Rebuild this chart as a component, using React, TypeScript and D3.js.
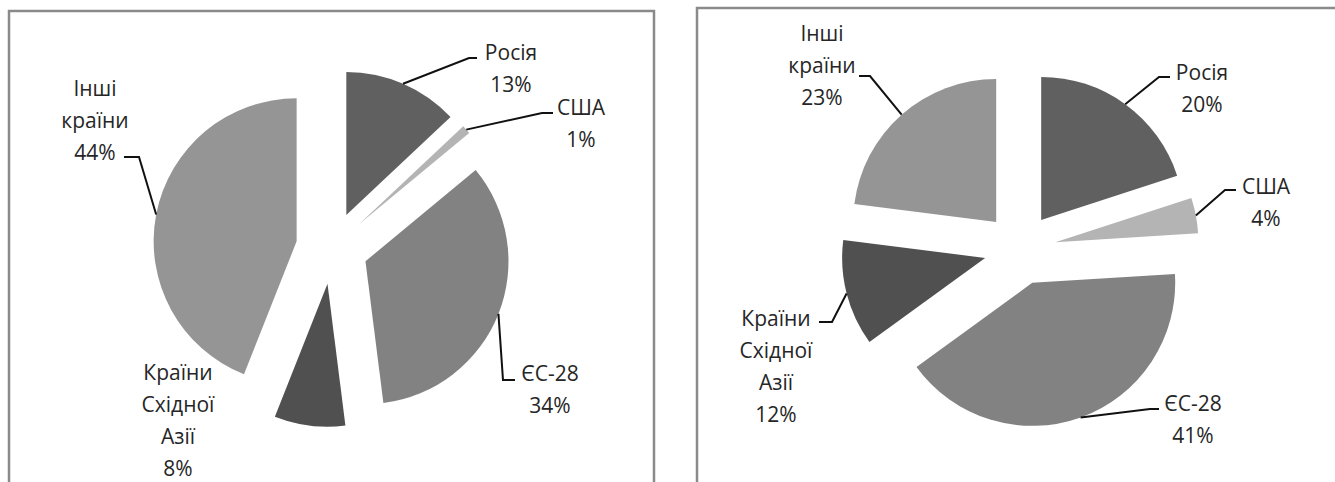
import React, { useEffect, useRef } from "react";
import * as d3 from "d3";

// categories in the order the slices run clockwise from 12 o'clock
const categories = ["Росія", "США", "ЄС-28", "Країни Східної Азії", "Інші країни"];
// how each category label is broken into lines on the charts
const labelLines = [["Росія"], ["США"], ["ЄС-28"], ["Країни", "Східної", "Азії"], ["Інші", "країни"]];
// shares, % (left chart / right chart)
const leftShares = [13, 1, 34, 8, 44];
const rightShares = [20, 4, 41, 12, 23];

const sliceColors = ["#606060", "#b4b4b4", "#828282", "#505050", "#959595"];

const width = 1335;
const height = 482;
const radius = 143;
const explode = 36;
const lineHeight = 32;

type LabelPos = { x: number; y: number; elbow?: [number, number]; end?: [number, number] };

const leftLayout = {
  cx: 332,
  cy: 248,
  frame: [9, 11, 645, 540],
  labels: [
    { x: 511, y: 52, elbow: [469, 58], end: [477, 58] },
    { x: 581, y: 107, elbow: [542, 113], end: [553, 113] },
    { x: 550, y: 373, elbow: [503, 380], end: [515, 380] },
    { x: 178, y: 372 },
    { x: 95, y: 88, elbow: [139, 157], end: [124, 157] },
  ] as LabelPos[],
};

const rightLayout = {
  cx: 1020,
  cy: 249,
  frame: [697, 8, 700, 540],
  labels: [
    { x: 1202, y: 72, elbow: [1159, 77], end: [1170, 77] },
    { x: 1266, y: 186, elbow: [1225, 190], end: [1236, 190] },
    { x: 1193, y: 403, elbow: [1150, 409], end: [1159, 409] },
    { x: 776, y: 318, elbow: [832, 322], end: [819, 322] },
    { x: 822, y: 33, elbow: [870, 76], end: [859, 76] },
  ] as LabelPos[],
};

function drawPie(svg: any, shares: number[], layout: typeof leftLayout) {
  const [fx, fy, fw, fh] = layout.frame;
  svg
    .append("rect")
    .attr("x", fx)
    .attr("y", fy)
    .attr("width", fw)
    .attr("height", fh)
    .attr("fill", "#fff")
    .attr("stroke", "#8a8a8a")
    .attr("stroke-width", 2.5);

  const pie = d3
    .pie<number>()
    .sort(null)
    .value((d) => d);
  const arcs = pie(shares);
  const arc = d3.arc<any>().innerRadius(0).outerRadius(radius);

  const g = svg.append("g").attr("transform", `translate(${layout.cx},${layout.cy})`);

  const mid = (a: any) => (a.startAngle + a.endAngle) / 2;

  g.selectAll("path.slice")
    .data(arcs)
    .join("path")
    .attr("class", "slice")
    .attr("fill", (d: any, i: number) => sliceColors[i])
    .attr("transform", (d: any) => {
      const m = mid(d);
      return `translate(${Math.sin(m) * explode},${-Math.cos(m) * explode})`;
    })
    .attr("d", arc);

  // leader lines: from the middle of the slice's arc to the label
  arcs.forEach((a: any, i: number) => {
    const lab = layout.labels[i];
    if (!lab.elbow || !lab.end) return;
    const m = mid(a);
    const sx = layout.cx + Math.sin(m) * (explode + radius);
    const sy = layout.cy - Math.cos(m) * (explode + radius);
    svg
      .append("polyline")
      .attr("points", `${sx},${sy} ${lab.elbow[0]},${lab.elbow[1]} ${lab.end[0]},${lab.end[1]}`)
      .attr("fill", "none")
      .attr("stroke", "#111")
      .attr("stroke-width", 2);
  });

  arcs.forEach((a: any, i: number) => {
    const lab = layout.labels[i];
    const lines = [...labelLines[i], `${shares[i]}%`];
    const t = svg
      .append("text")
      .attr("text-anchor", "middle")
      .attr("font-family", "'Open Sans', sans-serif")
      .attr("font-size", 21)
      .attr("fill", "#262626");
    lines.forEach((s, k) => {
      t.append("tspan")
        .attr("x", lab.x)
        .attr("y", lab.y + k * lineHeight)
        .attr("dy", "0.36em")
        .text(s);
    });
  });
}

export default function App() {
  const ref = useRef<SVGSVGElement>(null);

  useEffect(() => {
    const svg = d3.select(ref.current);
    svg.selectAll("*").remove();
    drawPie(svg, leftShares, leftLayout);
    drawPie(svg, rightShares, rightLayout);
  }, []);

  return (
    <svg
      ref={ref}
      width={width}
      height={height}
      style={{ position: "absolute", left: 0, top: 0, background: "#fff" }}
      aria-label={categories.join(", ")}
    />
  );
}
